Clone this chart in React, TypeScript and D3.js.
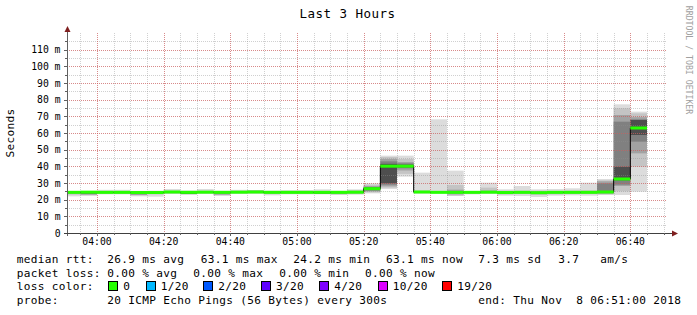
import React from "react";
import * as d3 from "d3";

// ---- data ----
const binStart = ["03:50","03:55","04:00","04:05","04:10","04:15","04:20","04:25","04:30","04:35","04:40","04:45","04:50","04:55","05:00","05:05","05:10","05:15","05:20","05:25","05:30","05:35","05:40","05:45","05:50","05:55","06:00","06:05","06:10","06:15","06:20","06:25","06:30","06:35","06:40"];
const binMinutes = 5;
const viewStart = "03:51";
const viewEnd = "06:51";

const medianRtt = [24.4,24.5,24.4,24.4,24.3,24.3,24.6,24.4,24.5,24.4,24.5,24.6,24.4,24.4,24.4,24.4,24.4,24.5,26.6,40.1,40.1,24.6,24.4,24.4,24.4,24.5,24.3,24.4,24.2,24.4,24.4,24.4,24.6,32.4,63.0];

// smoke bands, outermost (1) to innermost (5), in ms
const smoke1Lo = [22.0,22.4,23.2,23.2,22.0,21.8,23.4,23.0,23.4,22.4,23.4,23.6,22.6,23.2,23.2,23.2,22.8,23.0,23.8,26.4,33.8,23.6,23.8,22.2,23.2,23.4,22.4,22.2,21.6,22.4,22.6,22.4,22.8,22.8,24.8];
const smoke1Hi = [25.2,25.2,25.9,25.9,25.3,25.4,26.4,25.5,26.4,25.3,25.9,25.8,25.4,25.7,25.8,26.2,25.3,26.2,29.8,46.4,46.4,36.2,68.2,37.4,25.0,30.2,26.2,28.2,26.2,26.4,26.8,30.2,32.4,77.2,72.8];
const smoke2Lo = [23.0,22.6,23.6,23.6,22.6,23.2,23.8,23.2,23.8,22.6,23.8,23.8,23.4,23.6,23.6,23.4,23.2,23.4,24.4,27.2,35.5,24.0,24.0,22.4,23.6,23.8,23.2,23.4,22.8,23.2,23.4,23.4,23.2,25.0,39.8];
const smoke2Hi = [25.0,25.0,25.1,25.1,25.0,25.0,25.3,25.0,25.3,25.0,25.3,25.6,25.1,25.2,25.2,25.2,25.0,25.6,29.0,45.6,44.4,25.4,25.2,28.8,24.9,27.2,25.4,25.4,25.4,25.2,25.4,25.6,31.6,74.8,71.8];
const smoke3Lo = [23.6,23.0,23.8,23.8,23.0,23.6,24.0,23.4,24.0,23.0,24.0,24.0,23.8,23.9,23.9,23.6,23.6,23.8,25.0,28.0,37.5,24.2,24.1,23.2,23.9,24.0,23.6,23.8,23.4,23.6,23.8,23.8,23.6,28.2,47.8];
const smoke3Hi = [24.8,24.8,24.9,24.9,24.8,24.8,25.1,24.8,25.0,24.8,25.0,25.4,24.9,24.9,24.9,24.8,24.8,25.1,28.2,44.4,42.6,25.0,24.9,26.0,24.8,25.4,25.0,25.0,24.9,24.9,25.0,25.0,31.0,70.8,69.5];
const smoke4Lo = [23.9,23.4,24.0,24.0,23.2,23.9,24.2,23.5,24.2,23.6,24.2,24.2,24.0,24.1,24.1,23.7,23.9,24.0,25.4,29.0,38.8,24.3,24.2,23.8,24.1,24.2,24.0,24.0,23.8,24.0,24.0,24.0,24.0,29.0,54.8];
const smoke4Hi = [24.7,24.7,24.7,24.7,24.7,24.7,24.9,24.7,24.8,24.7,24.8,25.2,24.7,24.7,24.7,24.7,24.7,24.8,27.6,43.0,41.8,24.9,24.7,25.0,24.7,24.9,24.7,24.8,24.6,24.7,24.8,24.8,29.8,66.8,68.2];
const smoke5Lo = [24.1,23.8,24.2,24.2,23.4,24.1,24.3,23.6,24.3,24.0,24.3,24.4,24.2,24.2,24.2,23.8,24.1,24.2,25.8,29.8,39.4,24.4,24.3,24.1,24.2,24.3,24.1,24.2,24.0,24.1,24.1,24.1,24.2,31.6,58.8];
const smoke5Hi = [24.6,24.6,24.6,24.6,24.5,24.6,24.8,24.6,24.7,24.6,24.7,25.0,24.6,24.6,24.6,24.6,24.6,24.7,27.2,41.5,41.0,24.8,24.6,24.7,24.6,24.7,24.6,24.6,24.5,24.6,24.6,24.6,25.2,39.8,67.8];

const yMax = 120;
const yTickStep = 10;
const yMinorStep = 5;

const title = "Last 3 Hours";
const yLabel = "Seconds";
const watermark = "RRDTOOL / TOBI OETIKER";

const legendMedian = ["median rtt:", "26.9 ms avg", "63.1 ms max", "24.2 ms min", "63.1 ms now", "7.3 ms sd", "3.7   am/s"];
const legendLoss = ["packet loss:", "0.00 % avg", "0.00 % max", "0.00 % min", "0.00 % now"];
const lossLabels = ["0", "1/20", "2/20", "3/20", "4/20", "10/20", "19/20"];
const lossColors = ["#26ff00", "#00b8ff", "#0059ff", "#5e00ff", "#7e00ff", "#dd00ff", "#ff0000"];
const probeLine = ["probe:", "20 ICMP Echo Pings (56 Bytes) every 300s", "end: Thu Nov  8 06:51:00 2018"];

// ---- layout ----
const W = 697, H = 315;
const plotL = 67, plotR = 667, plotT = 33, plotB = 233;
const MONO = "'DejaVu Sans Mono', monospace";

const t = (s: string) => new Date(Date.UTC(2018, 10, 8, +s.slice(0, 2), +s.slice(3, 5)));

export default function App() {
  const x = d3.scaleUtc().domain([t(viewStart), t(viewEnd)]).range([plotL, plotR]);
  const y = d3.scaleLinear().domain([0, yMax]).range([plotB, plotT]);

  const starts = binStart.map(t);
  const ends = starts.map((d) => d3.utcMinute.offset(d, binMinutes));

  const bands = [
    { lo: smoke1Lo, hi: smoke1Hi, color: "#dcdcdc" },
    { lo: smoke2Lo, hi: smoke2Hi, color: "#c4c4c4" },
    { lo: smoke3Lo, hi: smoke3Hi, color: "#a2a2a2" },
    { lo: smoke4Lo, hi: smoke4Hi, color: "#808080" },
    { lo: smoke5Lo, hi: smoke5Hi, color: "#4e4e4e" },
  ];

  const majorX = d3.utcMinute.every(20)!.range(t(viewStart), d3.utcMinute.offset(t(viewEnd), 1));
  const minorX = d3.utcMinute.every(5)!.range(t(viewStart), d3.utcMinute.offset(t(viewEnd), 1));
  const majorY = d3.range(yTickStep, yMax, yTickStep);
  const minorY = d3.range(yMinorStep, yMax, yMinorStep);
  const yLabels = d3.range(0, yMax, yTickStep);
  const fmt = d3.utcFormat("%H:%M");

  const stepPts: [number, number][] = starts.map((d, i) => [x(d), y(medianRtt[i])]);
  stepPts.push([x(ends[ends.length - 1]), y(medianRtt[medianRtt.length - 1])]);
  const stepLine = d3.line().curve(d3.curveStepAfter)(stepPts) || "";

  const minorGrid = "rgba(143,143,143,0.42)";
  const majorGrid = "rgba(222,80,80,0.55)";

  const colX = [16.7, 107.3, 200.7, 293.3, 386, 478.3, 558.3];
  const lossX = [16.7, 107.3, 193.3, 279.3, 365];
  const boxX = [108.3, 145.7, 203.3, 261, 319.3, 377.7, 442.3];
  const legendStyle = { fontFamily: MONO, fontSize: 11.1, letterSpacing: 0.32, fill: "#000" } as const;

  return (
    <svg width={W} height={H} style={{ position: "absolute", left: 0, top: 0, background: "#fff" }}>
      <defs>
        <clipPath id="plotClip">
          <rect x={plotL} y={plotT - 5} width={plotR - plotL} height={plotB - plotT + 5} />
        </clipPath>
      </defs>
      <rect x={0} y={0} width={W} height={H} fill="#fff" />

      <text x={347.5} y={18} textAnchor="middle" style={{ fontFamily: MONO, fontSize: 12.5, letterSpacing: 0.47 }}>{title}</text>

      {/* smoke */}
      <g clipPath="url(#plotClip)">
        {bands.map((b, k) =>
          starts.map((d, i) => (
            <rect key={`s${k}-${i}`} x={x(d)} width={x(ends[i]) - x(d)} y={y(b.hi[i])} height={Math.max(0, y(b.lo[i]) - y(b.hi[i]))} fill={b.color} />
          ))
        )}
      </g>

      {/* grid */}
      <g strokeWidth={1} strokeDasharray="1,1" shapeRendering="crispEdges">
        {minorX.map((d, i) => (
          <line key={`mx${i}`} x1={Math.round(x(d)) + 0.5} x2={Math.round(x(d)) + 0.5} y1={plotT} y2={plotB} stroke={minorGrid} />
        ))}
        {minorY.map((v, i) => (
          <line key={`my${i}`} x1={plotL} x2={plotR} y1={Math.round(y(v)) + 0.5} y2={Math.round(y(v)) + 0.5} stroke={minorGrid} />
        ))}
        {majorX.map((d, i) => (
          <line key={`Mx${i}`} x1={Math.round(x(d)) + 0.5} x2={Math.round(x(d)) + 0.5} y1={plotT} y2={plotB} stroke={majorGrid} />
        ))}
        {majorY.map((v, i) => (
          <line key={`My${i}`} x1={plotL} x2={plotR} y1={Math.round(y(v)) + 0.5} y2={Math.round(y(v)) + 0.5} stroke={majorGrid} />
        ))}
      </g>

      {/* median */}
      <g clipPath="url(#plotClip)">
        <path d={stepLine} fill="none" stroke="#000" strokeWidth={1} />
        {starts.map((d, i) => (
          <rect key={`m${i}`} x={x(d)} width={x(ends[i]) - x(d)} y={y(medianRtt[i]) - 1.5} height={3} fill={lossColors[0]} />
        ))}
      </g>

      {/* axes */}
      <g shapeRendering="crispEdges">
        <line x1={plotL + 0.5} x2={plotL + 0.5} y1={plotB + 3} y2={30} stroke="#606060" />
        <line x1={plotL - 3} x2={673} y1={plotB + 0.5} y2={plotB + 0.5} stroke="#404040" />
        {minorX.map((d, i) => (
          <line key={`tx${i}`} x1={Math.round(x(d)) + 0.5} x2={Math.round(x(d)) + 0.5} y1={plotB} y2={plotB + 2} stroke="#606060" />
        ))}
        {majorX.map((d, i) => (
          <line key={`Tx${i}`} x1={Math.round(x(d)) + 0.5} x2={Math.round(x(d)) + 0.5} y1={plotB} y2={plotB + 3} stroke="#606060" />
        ))}
        {minorY.map((v, i) => (
          <line key={`ty${i}`} x1={plotL - 2} x2={plotL} y1={Math.round(y(v)) + 0.5} y2={Math.round(y(v)) + 0.5} stroke="#606060" />
        ))}
        {majorY.map((v, i) => (
          <line key={`Ty${i}`} x1={plotL - 3} x2={plotL} y1={Math.round(y(v)) + 0.5} y2={Math.round(y(v)) + 0.5} stroke="#606060" />
        ))}
      </g>
      <path d={`M${plotL + 0.5},26 L${plotL + 3.5},32 L${plotL - 2.5},32 Z`} fill="#7f1f1f" />
      <path d={`M678,${plotB + 0.5} L672,${plotB - 2.5} L672,${plotB + 3.5} Z`} fill="#7f1f1f" />

      {/* tick labels */}
      <g style={{ fontFamily: MONO, fontSize: 9.75 }} fill="#000">
        {yLabels.map((v) => (
          <text key={`yl${v}`} x={60.5} y={y(v)} textAnchor="end" dominantBaseline="central">{v === 0 ? "0" : `${v} m`}</text>
        ))}
        {majorX.map((d, i) => (
          <text key={`xl${i}`} x={x(d)} y={245} textAnchor="middle">{fmt(d)}</text>
        ))}
      </g>

      <text transform={`translate(10.5,${(plotT + plotB) / 2}) rotate(-90)`} textAnchor="middle" dominantBaseline="central" style={{ fontFamily: MONO, fontSize: 11.1, letterSpacing: 0.32 }}>{yLabel}</text>

      <text transform="translate(689,60) rotate(90)" textAnchor="middle" dominantBaseline="central" fill="#a0a0a0" style={{ fontFamily: MONO, fontSize: 8.2 }}>{watermark}</text>

      {/* legend */}
      <g style={legendStyle}>
        {legendMedian.map((s, i) => (
          <text key={`l1${i}`} x={colX[i]} y={262.7} xmlSpace="preserve" style={{ whiteSpace: "pre" }}>{s}</text>
        ))}
        {legendLoss.map((s, i) => (
          <text key={`l2${i}`} x={lossX[i]} y={276.7} style={{ whiteSpace: "pre" }}>{s}</text>
        ))}
        <text x={16.7} y={290.4} style={{ whiteSpace: "pre" }}>loss color:</text>
        {lossLabels.map((s, i) => (
          <g key={`lc${i}`}>
            <rect x={boxX[i] + 0.5} y={281.5} width={9} height={9} fill={lossColors[i]} stroke="#000" strokeWidth={1} shapeRendering="crispEdges" />
            <text x={boxX[i] + 15} y={290.4}>{s}</text>
          </g>
        ))}
        <text x={16.7} y={304.3}>{probeLine[0]}</text>
        <text x={107.3} y={304.3} style={{ whiteSpace: "pre" }}>{probeLine[1]}</text>
        <text x={478.3} y={304.3} style={{ whiteSpace: "pre" }}>{probeLine[2]}</text>
      </g>
    </svg>
  );
}
